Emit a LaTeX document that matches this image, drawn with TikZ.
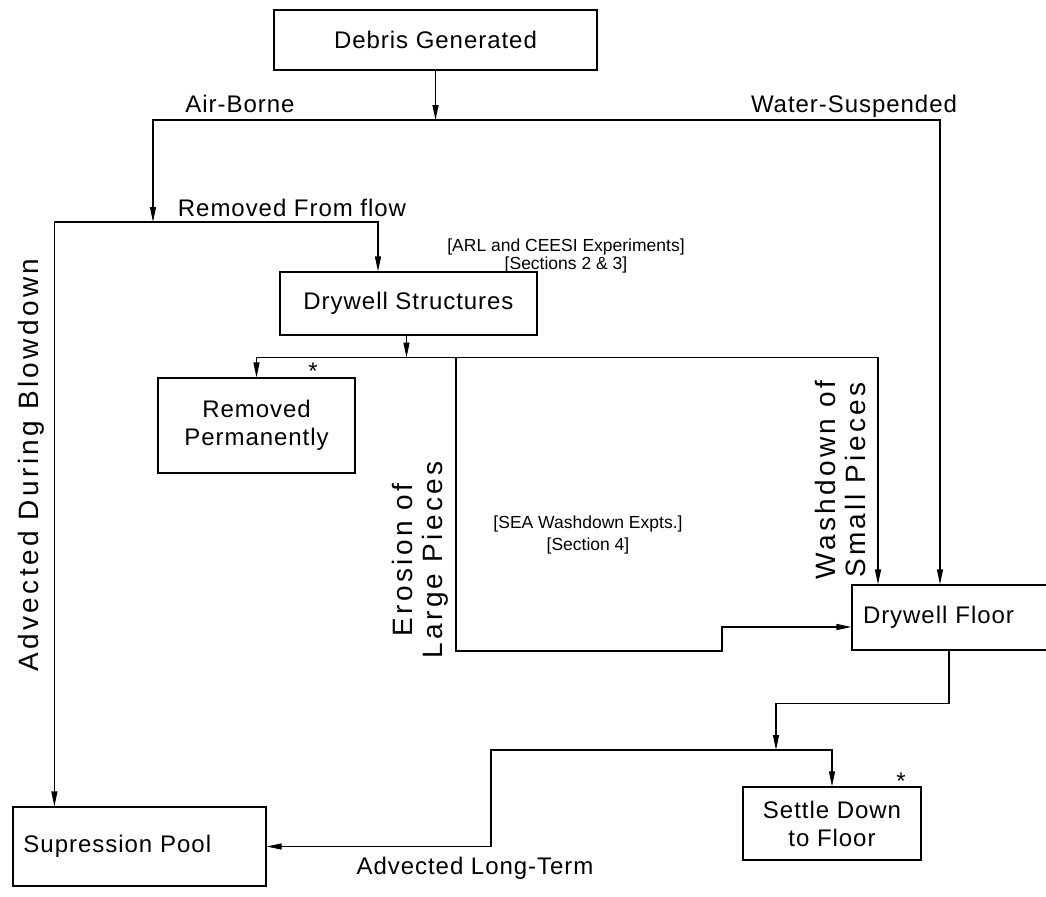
\documentclass[tikz,border=0pt]{standalone}
\usepackage{fontspec}
\setmainfont{Liberation Sans}[LetterSpace=4]
\newfontfamily\sidefont{Liberation Sans}[LetterSpace=12]
\newfontfamily\notefont{Liberation Sans}
\usetikzlibrary{arrows.meta,calc}

\begin{document}
\begin{tikzpicture}[
    x=0.5pt, y=-0.5pt,
    box/.style={draw, line width=0.6pt, align=center, inner sep=0pt, font=\fontsize{12}{14}\selectfont},
    lbl/.style={inner sep=0pt, font=\fontsize{12}{14}\selectfont},
    side/.style={inner sep=0pt, align=center, rotate=90, font=\sidefont\fontsize{14}{15}\selectfont},
    note/.style={inner sep=0pt, align=center, font=\notefont\fontsize{8.75}{9}\selectfont},
    arr/.style={-{Triangle[length=7.5pt,width=3pt]}, line width=0.6pt}
]
\useasboundingbox (0,0) rectangle (1046,896);

% boxes
\node[box, minimum width=161.5pt, minimum height=30pt] (gen) at (435.5,40) {Debris Generated};
\node[box, minimum width=128.5pt, minimum height=31.5pt] (dws) at (408.5,303.5) {Drywell Structures};
\node[box, minimum width=98.5pt, minimum height=47.5pt] (rem) at (256.5,425.5) {Removed\\Permanently};
\node[box, minimum width=99pt, minimum height=32.5pt, text width=88pt, align=left] (dwf) at (951,617.5) {Drywell Floor};
\node[box, minimum width=89pt, minimum height=36.5pt] (set) at (832,823.5) {Settle Down\\to Floor};
\node[box, minimum width=126.5pt, minimum height=39.5pt, text width=116pt, align=left] (pool) at (139.5,846.5) {Supression Pool};

% junctions
\coordinate (j1) at (gen.south |- 0,120);
\coordinate (j2) at (153,222);
\coordinate (j3) at ($(dws.south)+(-2,22)$);
\coordinate (e1) at (456,357);
\coordinate (j4) at (776,750);

% flows
\draw[arr] (gen) -- (j1);
\draw[arr] (j1) -| (j2);
\draw[arr] (j1) -| ([xshift=-5.5pt]dwf.north);
\draw[arr] (j2) -| ([xshift=-15.25pt]dws.north);
\draw[arr] (j2) -| ([xshift=21pt]pool.north west);
\draw[arr] (dws.south -| j3) -- (j3);
\draw[arr] (j3) -| (rem.north);
\draw[arr] (j3) -| ([xshift=-36.5pt]dwf.north);
\draw[arr] (e1) |- (722,651) |- ([yshift=-4.75pt]dwf.west);
\draw[arr] ([xshift=-1pt]dwf.south) -- ++(0,53) -| (j4);
\draw[arr] (j4) -| (set.north);
\draw[arr] (j4) -- (491,750) |- (pool.east);

% labels
\node[lbl] (airb) at (240,104) {Air-Borne};
\node[lbl] (waters) at (854,106) {Water-Suspended};
\node[lbl] (remflow) at (292,208) {Removed From flow};
\node[lbl] (advl) at (475,868) {Advected Long-Term};
\node[side] (advb) at (31,465) {Advected During Blowdown};
\node[side] (eros) at (420,560) {Erosion of\\Large Pieces};
\node[side] (wash) at (840,480) {Washdown of\\Small Pieces};
\node[note] (arl) at (566,256) {[ARL and CEESI Experiments]\\{[Sections 2 \& 3]}};
\node[note, font=\notefont\fontsize{8.75}{11}\selectfont] (sea) at (588,535) {[SEA Washdown Expts.]\\{[Section 4]}};
\node[lbl] (star1) at (313,371) {*};
\node[lbl] (star2) at (901,781) {*};
\end{tikzpicture}
\end{document}
